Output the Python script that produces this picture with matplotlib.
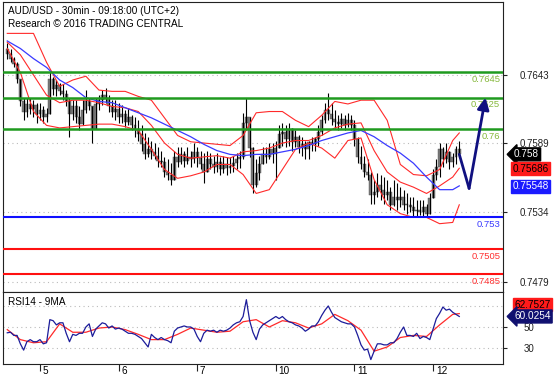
import numpy as np
import matplotlib
matplotlib.use('Agg')
import matplotlib.pyplot as plt

plt.rcParams['font.family'] = ['Liberation Sans', 'DejaVu Sans']

# ---------------- data ----------------
day_labels = ['5', '6', '7', '10', '11', '12']
day_starts = [0, 48, 96, 144, 192, 240]          # in 30-min bar units
bar_time = np.arange(-20, 257, 2)                  # hourly-sampled bars

first_open = 7664
close = [7660,7656,7652,7640,7622,7614,7620,7616,7619,7612,
         7615,7610,7612,7640,7632,7635,7630,7628,7622,7612,
         7618,7610,7604,7615,7622,7618,7600,7620,7623,7627,
         7625,7618,7614,7616,7610,7612,7606,7610,7603,7600,
         7596,7588,7580,7584,7582,7579,7575,7574,7566,7564,
         7560,7578,7574,7580,7575,7578,7576,7582,7577,7572,
         7566,7576,7572,7570,7574,7568,7572,7569,7571,7573,
         7576,7578,7605,7610,7585,7556,7565,7572,7580,7578,
         7584,7580,7585,7596,7598,7592,7600,7590,7594,7586,
         7588,7584,7590,7588,7592,7598,7607,7615,7612,7608,
         7606,7604,7608,7603,7607,7603,7592,7578,7572,7566,
         7564,7548,7550,7556,7552,7548,7550,7540,7546,7544,
         7546,7540,7540,7538,7535,7536,7534,7538,7533,7545,
         7564,7570,7584,7576,7582,7574,7578,7584,7580]
high = [7668,7664,7657,7653,7640,7625,7625,7625,7623,7621,
        7621,7618,7617,7645,7641,7639,7637,7636,7631,7625,
        7623,7623,7618,7623,7631,7625,7615,7625,7627,7631,
        7633,7627,7623,7623,7621,7619,7615,7617,7611,7610,
        7607,7603,7597,7594,7591,7589,7586,7583,7578,7576,
        7573,7583,7586,7586,7583,7586,7583,7589,7586,7583,
        7581,7583,7581,7579,7581,7578,7579,7578,7578,7579,
        7581,7583,7613,7625,7610,7586,7576,7579,7586,7586,
        7589,7589,7591,7603,7605,7603,7605,7601,7599,7595,
        7594,7591,7591,7594,7594,7603,7611,7621,7629,7621,
        7615,7611,7613,7611,7613,7611,7607,7594,7587,7579,
        7576,7566,7560,7565,7564,7562,7560,7554,7560,7557,
        7554,7552,7549,7546,7546,7544,7544,7544,7541,7549,
        7568,7576,7589,7586,7589,7583,7581,7587,7591]
low = [7656,7653,7649,7637,7618,7607,7610,7612,7610,7605,
       7607,7605,7606,7612,7627,7626,7627,7623,7618,7594,
       7607,7605,7599,7603,7613,7615,7589,7600,7615,7619,
       7621,7614,7610,7607,7605,7605,7602,7603,7599,7594,
       7591,7583,7576,7578,7576,7576,7570,7570,7562,7560,
       7556,7560,7570,7572,7570,7572,7570,7573,7570,7568,
       7557,7566,7568,7565,7566,7564,7565,7564,7565,7566,
       7568,7569,7576,7599,7578,7549,7554,7560,7572,7573,
       7576,7573,7560,7585,7587,7586,7587,7583,7586,7581,
       7579,7576,7576,7583,7583,7587,7595,7605,7607,7603,
       7601,7599,7601,7599,7602,7599,7587,7573,7568,7562,
       7560,7541,7541,7546,7544,7541,7544,7536,7539,7536,
       7538,7536,7533,7534,7530,7530,7532,7530,7530,7533,
       7545,7560,7562,7570,7573,7568,7570,7572,7578]

# indicator lines sampled every 4 hourly bars (+ last bar)
band_bar = list(range(0, 137, 4)) + [138]
bb_upper = [7676,7676,7676,7653,7634,7639,7642,7631,7630,7630,7626,7623,
            7609,7595,7590,7589,7588,7587,7595,7613,7614,7614,7607,7602,
            7611,7622,7620,7623,7623,7607,7572,7564,7563,7568,7591,7597]
bb_mid = [7669,7659,7643,7627,7621,7623,7623,7621,7618,7617,7614,7603,
          7589,7580,7577,7578,7579,7577,7582,7583,7585,7589,7591,7591,
          7595,7601,7604,7605,7583,7566,7558,7554,7549,7555,7562,7569]
bb_lower = [7664,7645,7614,7603,7601,7602,7603,7604,7604,7602,7599,7584,
            7568,7561,7563,7566,7572,7572,7564,7549,7552,7568,7584,7589,
            7585,7577,7591,7593,7560,7540,7533,7530,7530,7525,7526,7540]
ma_blue = [7670,7664,7656,7649,7639,7633,7625,7622,7621,7617,7613,7609,
           7604,7599,7594,7588,7583,7580,7579,7580,7580,7582,7584,7587,
           7591,7594,7597,7599,7594,7587,7581,7573,7562,7552,7552,7555]

rsi = [44.5,45,42,42,34,28,36,38,36,36,38,34,35,57,56,52,54,54,44,36,
       43,42,44,44,50,53,41,48,51,54,53,49,51,48,49,48,46,44,44,43,
       41,39,35,31,43,40,38,40,38,37,35,46,49,50,51,50,50,48,41,36,
       44,47,46,47,45,47,46,47,49,52,54,55,60,76,56,45,38,48,52,54,
       56,58,60,58,60,57,55,54,52,51,49,46,48,51,51,55,61,66,70,64,
       59,57,55,54,53,53,50,42,33,28,29,19,27,34,34,33,33,35,35,39,
       45,50,42,42,41,44,39,41,40,38,48,58,63,69,66,67,64,62,60.03]
rsi_ma = [47.5,38,35,36,53,45,45,49,50,47.5,43,38,38,43,49,47,45,46,
          55,57,50,56,54,49,53,62,56,47,27,31,40,42,41,52,62,62.75]

levels_green = [0.7645, 0.7625, 0.76]
levels_blue = [0.753]
levels_red = [0.7505, 0.7485]
price_ticks = [0.7643, 0.7589, 0.7534, 0.7479]

forecast_time = [256, 262, 272]
forecast_price = [0.7580, 0.7553, 0.7625]

last_close_tag = 0.758
mid_tag = 0.75686
ma_tag = 0.75548
rsi_tag = 60.0254
rsi_ma_tag = 62.7527

# ---------------- figure ----------------
W, H = 558, 380
fig = plt.figure(figsize=(W / 100, H / 100), dpi=100)


def axpos(x0, y0, x1, y1):
    return [x0 / W, 1 - y1 / H, (x1 - x0) / W, (y1 - y0) / H]


ax = fig.add_axes(axpos(3, 2, 503, 292))
axr = fig.add_axes(axpos(3, 292, 503, 364), sharex=ax)

c = np.array(close) / 1e4
hi = np.array(high) / 1e4
lo = np.array(low) / 1e4
o = np.concatenate([[first_open / 1e4], c[:-1]])
hi_d = np.maximum(hi, np.maximum(o, c))
lo_d = np.minimum(lo, np.minimum(o, c))

body_lo = np.minimum(o, c)
body_h = np.maximum(np.abs(c - o), 0.00008)
ax.bar(bar_time, body_h, bottom=body_lo, width=1.8, color='#7c7c7c',
       edgecolor='#4a4a4a', linewidth=0.3, zorder=3)
ax.vlines(bar_time, lo_d, hi_d, color='black', lw=0.8, zorder=4)

band_t = bar_time[band_bar]
ax.plot(band_t, np.array(bb_upper) / 1e4, color='#ff2a2a', lw=0.8, zorder=5)
ax.plot(band_t, np.array(bb_mid) / 1e4, color='#ff2a2a', lw=0.8, zorder=5)
ax.plot(band_t, np.array(bb_lower) / 1e4, color='#ff2a2a', lw=0.8, zorder=5)
ax.plot(band_t, np.array(ma_blue) / 1e4, color='#3a3aff', lw=0.9, zorder=5)

# dotted grid
for p in price_ticks:
    ax.axhline(p, color='#bbbbbb', lw=0.8, ls=(0, (1, 3)), zorder=1)

lvl_fs = 6.8
for lv in levels_green:
    ax.axhline(lv, color='#1f9a1f', lw=1.8, zorder=6)
    ax.annotate(f'{lv:g}', xy=(1, lv), xycoords=('axes fraction', 'data'),
                xytext=(-2, -2), textcoords='offset points', ha='right', va='top',
                color='#86b83c', fontsize=lvl_fs, zorder=7)
for lv in levels_blue:
    ax.axhline(lv, color='#1010ff', lw=1.5, zorder=6)
    ax.annotate(f'{lv:g}', xy=(1, lv), xycoords=('axes fraction', 'data'),
                xytext=(-2, -2), textcoords='offset points', ha='right', va='top',
                color='#3a3aff', fontsize=lvl_fs, zorder=7)
for lv in levels_red:
    ax.axhline(lv, color='#ff1010', lw=1.5, zorder=6)
    ax.annotate(f'{lv:g}', xy=(1, lv), xycoords=('axes fraction', 'data'),
                xytext=(-2, -2), textcoords='offset points', ha='right', va='top',
                color='#ff3030', fontsize=lvl_fs, zorder=7)

# forecast arrow
ax.plot(forecast_time[:2], forecast_price[:2], color='#101080', lw=2, zorder=8,
        solid_capstyle='round')
ax.annotate('', xy=(forecast_time[2], forecast_price[2]),
            xytext=(forecast_time[1], forecast_price[1]),
            arrowprops=dict(arrowstyle='-|>,head_length=0.7,head_width=0.35',
                            color='#101080', lw=2, shrinkA=0, shrinkB=0), zorder=8)

ax.set_xlim(-22.6, 282.7)
ax.set_ylim(0.74708, 0.77009)
ax.yaxis.tick_right()
ax.set_yticks(price_ticks)
ax.set_yticklabels([f'{p:.4f}' for p in price_ticks])
ax.tick_params(axis='y', length=3, width=0.8, pad=9, labelsize=7, colors='#222222')
ax.tick_params(axis='x', bottom=False, labelbottom=False)
for s in ax.spines.values():
    s.set_linewidth(0.8)
    s.set_color('#222222')

ax.text(0.011, 0.985, 'AUD/USD - 30min - 09:18:00 (UTC+2)', transform=ax.transAxes,
        fontsize=7.2, va='top', ha='left', color='black')
ax.text(0.011, 0.94, 'Research \u00a9 2016 TRADING CENTRAL', transform=ax.transAxes,
        fontsize=7.2, va='top', ha='left', color='black')

# value tags (main)
ax.annotate(f'{last_close_tag:g}', xy=(1, last_close_tag), xycoords=('axes fraction', 'data'),
            xytext=(8, 0), textcoords='offset points', ha='left', va='center',
            color='white', fontsize=7.2, annotation_clip=False,
            bbox=dict(boxstyle='larrow,pad=0.15', fc='black', ec='black'))
ax.annotate(f'{mid_tag:.5f}', xy=(1, mid_tag), xycoords=('axes fraction', 'data'),
            xytext=(7, 0), textcoords='offset points', ha='left', va='center',
            color='black', fontsize=7.2, annotation_clip=False,
            bbox=dict(boxstyle='square,pad=0.15', fc='#ff1a1a', ec='#ff1a1a'))
ax.annotate(f'{ma_tag:.5f}', xy=(1, ma_tag), xycoords=('axes fraction', 'data'),
            xytext=(7, 0), textcoords='offset points', ha='left', va='center',
            color='white', fontsize=7.2, annotation_clip=False,
            bbox=dict(boxstyle='square,pad=0.15', fc='#1a1aff', ec='#1a1aff'))

# ---------------- RSI panel ----------------
axr.plot(bar_time, rsi, color='#1c1c9a', lw=0.9, zorder=4)
axr.plot(band_t, rsi_ma, color='#ff2a2a', lw=0.9, zorder=3)
for g in [70, 50, 30]:
    axr.axhline(g, color='#bbbbbb', lw=0.8, ls=(0, (1, 3)), zorder=1)
axr.set_ylim(14.8, 83.3)
axr.yaxis.tick_right()
axr.set_yticks([50, 30])
axr.set_yticklabels(['50', '30'])
axr.tick_params(axis='y', length=3, width=0.8, pad=12, labelsize=7, colors='#222222')
axr.set_xticks(day_starts)
axr.set_xticklabels([])
axr.tick_params(axis='x', length=5, width=0.8, direction='out', colors='#222222')
for s in axr.spines.values():
    s.set_linewidth(0.8)
    s.set_color('#222222')
for t, lab in zip(day_starts, day_labels):
    axr.annotate(lab, xy=(t, 0), xycoords=('data', 'axes fraction'),
                 xytext=(2, -1.5), textcoords='offset points', ha='left', va='top',
                 fontsize=7.2, color='black', annotation_clip=False)
axr.text(0.011, 0.93, 'RSI14 - 9MA', transform=axr.transAxes, fontsize=7.2,
         va='top', ha='left')
axr.annotate(f'{rsi_ma_tag:.4f}', xy=(1, rsi_ma_tag), xycoords=('axes fraction', 'data'),
             xytext=(8, 6.5), textcoords='offset points', ha='left', va='center',
             color='black', fontsize=7.2, annotation_clip=False,
             bbox=dict(boxstyle='square,pad=0.15', fc='#ff1a1a', ec='#ff1a1a'))
axr.annotate(f'{rsi_tag:.4f}', xy=(1, rsi_tag), xycoords=('axes fraction', 'data'),
             xytext=(8, 0), textcoords='offset points', ha='left', va='center',
             color='white', fontsize=7.2, annotation_clip=False,
             bbox=dict(boxstyle='larrow,pad=0.15', fc='#101070', ec='#101070'))

fig.savefig('out.png', dpi=100)
